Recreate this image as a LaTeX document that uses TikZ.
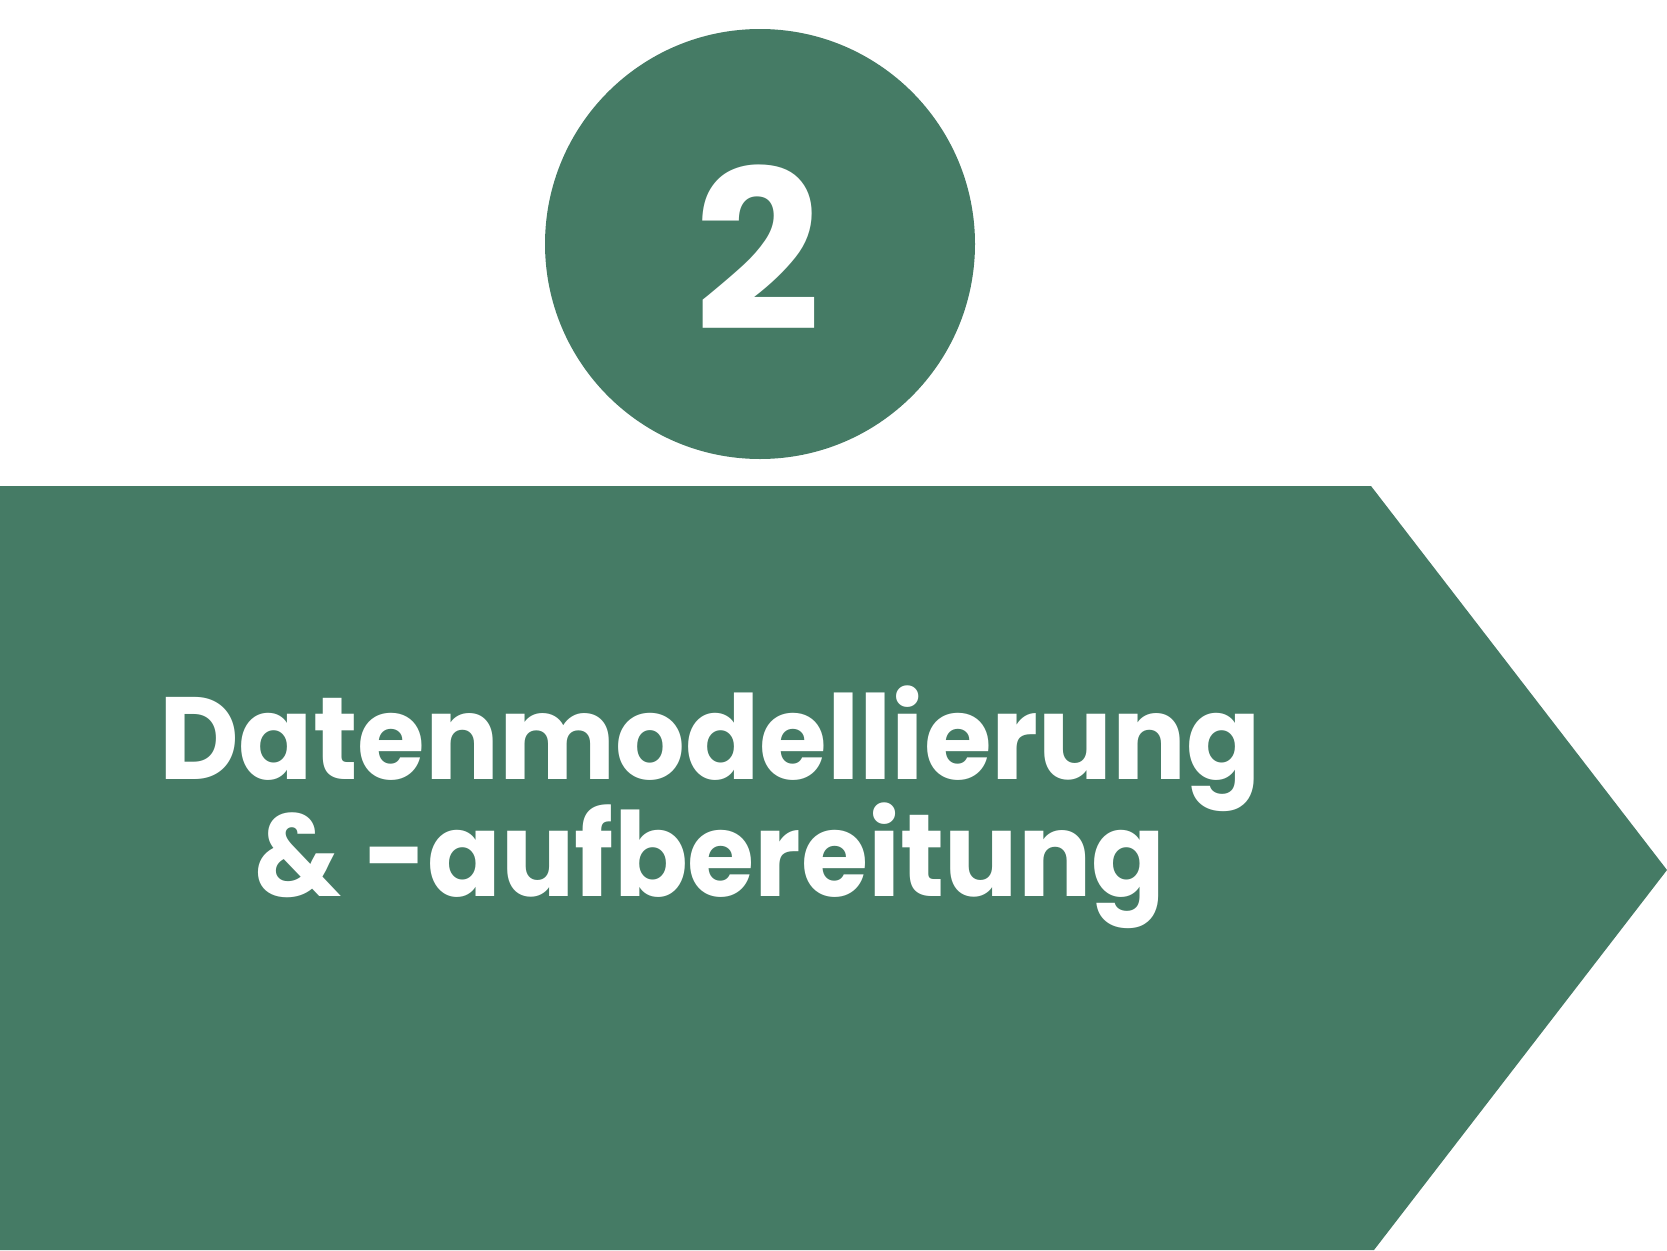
\documentclass[tikz,border=0pt]{standalone}
\usepackage{fontspec}
\setmainfont{Poppins}
\definecolor{grn}{HTML}{457B65}
\tikzset{
  shapefill/.style={fill=grn, draw=none},
  label1/.style={text=white, inner sep=0pt, anchor=base, font=\fontsize{117}{117}\selectfont\bfseries},
  numlabel/.style={text=white, inner sep=0pt, anchor=base, font=\fontsize{222}{222}\selectfont\bfseries}
}
\begin{document}
\begin{tikzpicture}[x=1pt,y=-1pt]
\useasboundingbox (0,0) rectangle (1667,1250);
\fill[shapefill] (0,486) -- (1371,486) -- (1667,870) -- (1374,1250) -- (0,1250) -- cycle;
\node[circle, shapefill, minimum size=430pt, inner sep=0pt] (badge) at (760,244) {};
\node[numlabel] (num) at (758,330) {2};
\node[label1] (line1) at (710,779) {\scalebox{0.937}[1]{Datenmodellierung}};
\node[label1] (line2) at (710,896) {\scalebox{0.93}[1]{\& -aufbereitung}};
\end{tikzpicture}
\end{document}
